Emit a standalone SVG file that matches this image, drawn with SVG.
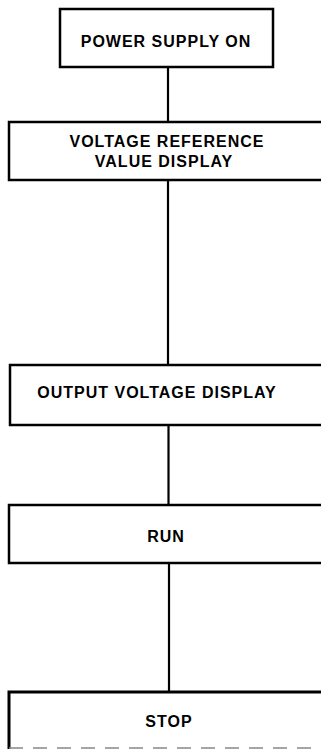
<svg xmlns="http://www.w3.org/2000/svg" width="321" height="749" viewBox="0 0 321 749">
<style>
.box{fill:#fff;stroke:#000;stroke-width:2.5}
.lbl{font-family:"Liberation Sans",Arial,sans-serif;font-weight:bold;font-size:16px;letter-spacing:1px;fill:#000;text-anchor:middle}
.con{stroke:#000;stroke-width:2.2;fill:none}
</style>
<rect width="321" height="749" fill="#fff"/>
<g id="connectors">
<line class="con" x1="168" y1="67" x2="168" y2="122"/>
<line class="con" x1="168" y1="180" x2="168" y2="365"/>
<line class="con" x1="168.5" y1="425" x2="168.5" y2="505"/>
<line class="con" x1="169" y1="563" x2="169" y2="692"/>
</g>
<g id="power-supply-on">
<rect class="box" x="60" y="9" width="213" height="58"/>
<text class="lbl" x="166" y="47">POWER SUPPLY ON</text>
</g>
<g id="voltage-reference">
<rect class="box" x="9" y="122" width="330" height="58"/>
<text class="lbl" x="167" y="147">VOLTAGE REFERENCE</text>
<text class="lbl" x="164" y="167">VALUE DISPLAY</text>
</g>
<g id="output-voltage">
<rect class="box" x="10" y="365" width="330" height="60"/>
<text class="lbl" x="157" y="398">OUTPUT VOLTAGE DISPLAY</text>
</g>
<g id="run">
<rect class="box" x="9" y="505" width="330" height="58"/>
<text class="lbl" x="166" y="542">RUN</text>
</g>
<g id="stop">
<path d="M9,749 V692 H330" fill="none" stroke="#000" stroke-width="3"/>
<line x1="9" y1="748" x2="321" y2="748" stroke="#888" stroke-width="1.5" stroke-dasharray="14,10"/>
<text class="lbl" x="169" y="727">STOP</text>
</g>
</svg>
